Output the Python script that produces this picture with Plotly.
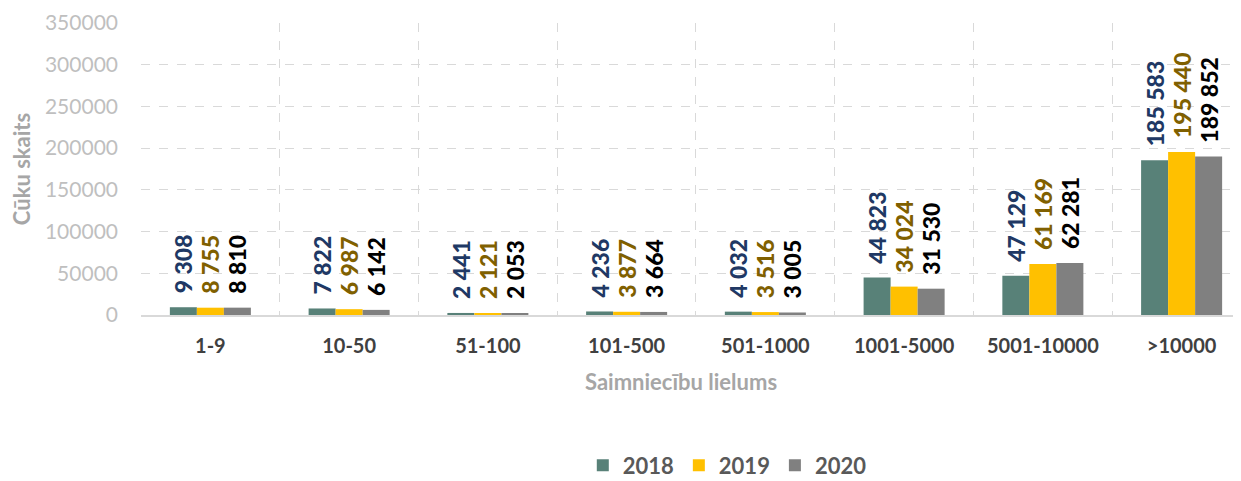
import plotly.graph_objects as go

categories = ["1-9", "10-50", "51-100", "101-500", "501-1000", "1001-5000", "5001-10000", ">10000"]
years = ["2018", "2019", "2020"]
values_2018 = [9308, 7822, 2441, 4236, 4032, 44823, 47129, 185583]
values_2019 = [8755, 6987, 2121, 3877, 3516, 34024, 61169, 195440]
values_2020 = [8810, 6142, 2053, 3664, 3005, 31530, 62281, 189852]
y_ticks = [0, 50000, 100000, 150000, 200000, 250000, 300000, 350000]

series = [values_2018, values_2019, values_2020]
bar_colors = ["#588178", "#FFC000", "#808080"]
label_colors = ["#203864", "#806000", "#000000"]

FONT = "Lato"

def fmt(v):
    return "\u00a0\u00a0" + f"{v:,}".replace(",", " ")

fig = go.Figure()
for name, vals, bc, lc in zip(years, series, bar_colors, label_colors):
    fig.add_trace(go.Bar(
        name=name, x=categories, y=vals,
        marker=dict(color=bc, line=dict(width=0)),
        text=[fmt(v) for v in vals],
        textposition="outside",
        textangle=-90,
        cliponaxis=False,
        constraintext="none",
        textfont=dict(family=FONT, size=23, color=lc, weight=900),
        hoverinfo="x+y+name",
    ))

fig.update_layout(
    width=1233, height=473,
    margin=dict(l=133, r=0, t=15, b=166, autoexpand=False),
    paper_bgcolor="white", plot_bgcolor="white",
    barmode="group", bargap=0.416, bargroupgap=0,
    font=dict(family=FONT),
    showlegend=True,
    legend=dict(orientation="h", x=0.533, xanchor="center", y=-0.515, yanchor="middle",
                font=dict(family=FONT, size=22, color="#595959", weight="bold"),
                traceorder="normal"),
    annotations=[dict(text="Saimniecību lielums", xref="paper", yref="paper",
                      x=0.491, y=-0.229, xanchor="center", yanchor="middle", showarrow=False,
                      font=dict(family=FONT, size=22, color="#A6A6A6", weight="bold"))],
)
fig.update_xaxes(
    type="category", range=[-0.5, 7.428], automargin=False,
    tickson="boundaries", showgrid=True, griddash="dash", gridcolor="#D9D9D9", gridwidth=1.3,
    showline=True, linecolor="#D9D9D9", linewidth=2,
    ticks="", ticklabelstandoff=12,
    tickfont=dict(family=FONT, size=20, color="#404040", weight="bold"),
    zeroline=False,
)
fig.update_yaxes(
    range=[0, 350000], tickvals=y_ticks, ticktext=[str(t) for t in y_ticks], automargin=False,
    showgrid=True, griddash="dash", gridcolor="#D9D9D9", gridwidth=1.3,
    showline=False, zeroline=False, ticks="", ticklabelstandoff=22,
    tickfont=dict(family=FONT, size=21, color="#BFBFBF"),
    title=dict(text="Cūku skaits", standoff=14,
               font=dict(family=FONT, size=22, color="#A6A6A6", weight="bold")),
)

fig.write_html("out.html")
